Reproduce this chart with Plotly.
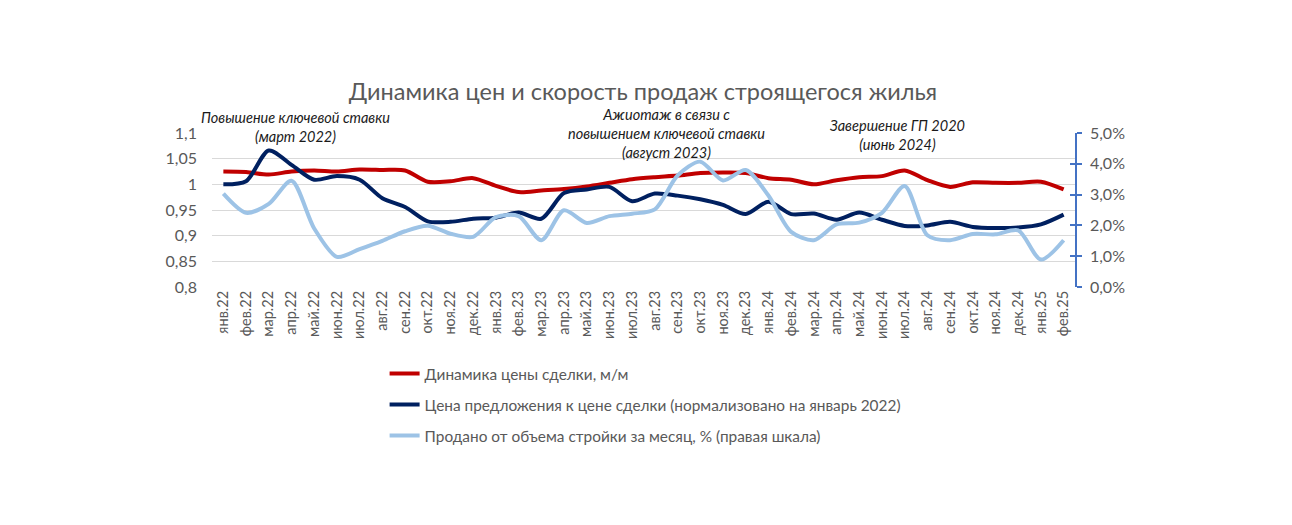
import plotly.graph_objects as go

months = ["янв.22", "фев.22", "мар.22", "апр.22", "май.22", "июн.22", "июл.22", "авг.22", "сен.22", "окт.22",
          "ноя.22", "дек.22", "янв.23", "фев.23", "мар.23", "апр.23", "май.23", "июн.23", "июл.23", "авг.23",
          "сен.23", "окт.23", "ноя.23", "дек.23", "янв.24", "фев.24", "мар.24", "апр.24", "май.24", "июн.24",
          "июл.24", "авг.24", "сен.24", "окт.24", "ноя.24", "дек.24", "янв.25", "фев.25"]

deal_price = [1.025, 1.024, 1.019, 1.025, 1.027, 1.025, 1.029, 1.028, 1.027, 1.005,
              1.006, 1.012, 0.997, 0.985, 0.988, 0.991, 0.996, 1.003, 1.010, 1.014,
              1.017, 1.022, 1.023, 1.022, 1.012, 1.009, 1.000, 1.008, 1.014, 1.016,
              1.027, 1.008, 0.995, 1.004, 1.003, 1.003, 1.005, 0.990]

offer_ratio = [1.000, 1.006, 1.066, 1.038, 1.009, 1.016, 1.009, 0.973, 0.956, 0.928,
               0.927, 0.933, 0.935, 0.945, 0.933, 0.983, 0.990, 0.995, 0.967, 0.982,
               0.978, 0.971, 0.960, 0.942, 0.966, 0.942, 0.943, 0.931, 0.945, 0.931,
               0.919, 0.920, 0.927, 0.917, 0.915, 0.916, 0.922, 0.941]

sold_share = [3.03, 2.41, 2.70, 3.45, 1.90, 0.98, 1.23, 1.50, 1.81, 1.99,
              1.73, 1.63, 2.27, 2.30, 1.52, 2.49, 2.08, 2.30, 2.38, 2.52,
              3.62, 4.07, 3.46, 3.80, 2.97, 1.79, 1.52, 2.03, 2.09, 2.41,
              3.28, 1.68, 1.52, 1.72, 1.71, 1.84, 0.89, 1.52]

names = ["Динамика цены сделки, м/м",
         "Цена предложения к цене сделки (нормализовано на январь 2022)",
         "Продано от объема стройки за месяц, % (правая шкала)"]

FONT = "Lato"
GRAY = "#595959"
AXBLUE = "#4472C4"

fig = go.Figure()
fig.add_trace(go.Scatter(x=months, y=deal_price, name=names[0], mode="lines",
                         line=dict(color="#C00000", width=4, shape="spline", smoothing=0.8),
                         legendgroup="a"))
fig.add_trace(go.Scatter(x=months, y=offer_ratio, name=names[1], mode="lines",
                         line=dict(color="#002060", width=4, shape="spline", smoothing=0.8),
                         legendgroup="b"))
fig.add_trace(go.Scatter(x=months, y=sold_share, name=names[2], mode="lines", yaxis="y2",
                         line=dict(color="#9DC3E6", width=4, shape="spline", smoothing=0.8),
                         legendgroup="c"))
# invisible companion so the inner half of the right-axis tick marks is drawn
fig.add_trace(go.Scatter(x=months, y=sold_share, mode="lines", yaxis="y3", showlegend=False,
                         hoverinfo="skip", line=dict(color="rgba(0,0,0,0)", width=0)))

fig.update_layout(
    width=1292, height=525,
    margin=dict(l=204, r=225, t=125, b=246),
    paper_bgcolor="white", plot_bgcolor="white",
    separators=", ",
    font=dict(family=FONT, color=GRAY, size=14),
    title=dict(text="Динамика цен и скорость продаж строящегося жилья",
               x=0.4915, xanchor="center", y=1 - 84 / 525, yanchor="middle",
               font=dict(size=23.5, color=GRAY, family=FONT)),
    xaxis=dict(type="category", range=[-0.5, 37.5], tickangle=-90, showgrid=False,
               showline=False, ticks="", tickfont=dict(size=14.5, color=GRAY)),
    yaxis=dict(range=[0.8, 1.1], dtick=0.05, showgrid=True, gridcolor="#D9D9D9", gridwidth=1.3,
               zeroline=False, showline=False, ticks="", tickfont=dict(size=16, color=GRAY),
               ticklabelstandoff=14),
    yaxis2=dict(range=[0, 5], dtick=1, overlaying="y", side="right", showgrid=False,
                zeroline=False, showline=True, linecolor=AXBLUE, linewidth=1.5,
                ticks="outside", ticklen=5, tickcolor=AXBLUE, tickwidth=1.5,
                tickformat=".1f", ticksuffix="%", tickfont=dict(size=16, color=GRAY),
                ticklabelstandoff=5),
    yaxis3=dict(range=[0, 5], dtick=1, overlaying="y", side="right", anchor="x", showgrid=False,
                zeroline=False, showline=False, ticks="inside", ticklen=5, tickcolor=AXBLUE,
                tickwidth=1.5, showticklabels=False),
    legend=dict(x=0.2, y=-0.455, xanchor="left", yanchor="top", orientation="v",
                tracegroupgap=8, font=dict(size=15.4, color=GRAY, family=FONT),
                bgcolor="rgba(0,0,0,0)"),
    showlegend=True,
)

ann_font = dict(family=FONT, size=14.5, color="#1a1a1a")
fig.add_annotation(text="<i>Повышение ключевой ставки<br>(март 2022)</i>", xref="paper", yref="paper",
                   x=0.0962, y=1.039, showarrow=False, font=ann_font, xanchor="center", yanchor="middle")
fig.add_annotation(text="<i>Ажиотаж в связи с<br>повышением ключевой ставки<br>(август 2023)</i>",
                   xref="paper", yref="paper", x=0.527, y=0.995, showarrow=False, font=ann_font,
                   xanchor="center", yanchor="middle")
fig.add_annotation(text="<i>Завершение ГП 2020<br>(июнь 2024)</i>", xref="paper", yref="paper",
                   x=0.794, y=0.990, showarrow=False, font=ann_font, xanchor="center", yanchor="middle")

fig.write_html("out.html")
